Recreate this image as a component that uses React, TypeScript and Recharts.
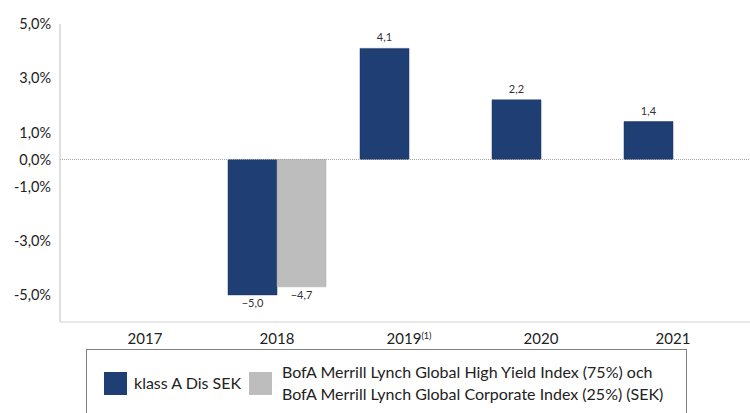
import { BarChart, Bar, XAxis, YAxis, ReferenceLine, LabelList } from "recharts";

const years = ["2017", "2018", "2019", "2020", "2021"];
const fundReturns: (number | null)[] = [null, -5.0, 4.1, 2.2, 1.4];
const indexReturns: (number | null)[] = [null, -4.7, null, null, null];
const yTicks = [5, 3, 1, 0, -1, -3, -5];

const BLUE = "#1F3E73";
const GREY = "#BDBDBD";
const FONT = "Lato, 'Open Sans', sans-serif";

const data = years.map((year, i) => ({
  year,
  fund: fundReturns[i],
  index: indexReturns[i],
}));

const fmtTick = (v: number) => `${v.toFixed(1).replace(".", ",")}%`;
const fmtLabel = (v: number) => v.toFixed(1).replace(".", ",").replace("-", "\u2212");

function BarLabel(props: any) {
  const { x, y, width, height, value } = props;
  if (value == null) return null;
  const top = Math.min(y, y + height);
  const bottom = Math.max(y, y + height);
  const ly = value >= 0 ? top - 7 : bottom + 12;
  return (
    <text
      x={x + width / 2}
      y={ly}
      textAnchor="middle"
      fontFamily={FONT}
      fontSize={11}
      fill="#333"
    >
      {fmtLabel(value)}
    </text>
  );
}

function YearTick(props: any) {
  const { x, y, payload } = props;
  const sup = payload.value === "2019";
  return (
    <text x={x} y={y + 14} textAnchor="middle" fontFamily={FONT} fontSize={15} fill="#222">
      {payload.value}
      {sup && (
        <tspan fontSize={9} dy={-5}>
          (1)
        </tspan>
      )}
    </text>
  );
}

export default function App() {
  return (
    <div style={{ position: "relative", width: 750, height: 413, background: "#fff", overflow: "hidden" }}>
      <style>{"body{margin:0}"}</style>
      <BarChart
        width={750}
        height={413}
        data={data}
        margin={{ top: 24, right: 0, bottom: 68, left: 0 }}
        barGap={0}
        barSize={49}
      >
        <XAxis
          dataKey="year"
          height={23}
          padding={{ left: 19, right: 11 }}
          axisLine={{ stroke: "#D0D0D0" }}
          tickLine={false}
          tick={<YearTick />}
          interval={0}
        />
        <YAxis
          width={60}
          domain={[-6, 5]}
          ticks={yTicks}
          interval={0}
          tickFormatter={fmtTick}
          axisLine={{ stroke: "#BFBFBF" }}
          tickLine={false}
          tickMargin={3}
          tick={{ fontFamily: FONT, fontSize: 14.5, fill: "#222" }}
        />
        <ReferenceLine y={0} stroke="#A0A0A0" strokeDasharray="1 1" />
        <Bar dataKey="fund" fill={BLUE} stroke="#1A3560" strokeWidth={0.5} isAnimationActive={false}>
          <LabelList dataKey="fund" content={<BarLabel />} />
        </Bar>
        <Bar dataKey="index" fill={GREY} stroke="#A8A8A8" strokeWidth={0.5} isAnimationActive={false}>
          <LabelList dataKey="index" content={<BarLabel />} />
        </Bar>
      </BarChart>

      {/* Legend */}
      <div
        style={{
          position: "absolute",
          left: 86,
          top: 349,
          width: 601,
          height: 70,
          border: "1px solid #7F7F7F",
          boxSizing: "border-box",
          background: "#fff",
          fontFamily: FONT,
          fontSize: 16,
          color: "#222",
        }}
      >
        <span style={{ position: "absolute", left: 17, top: 22, width: 23, height: 23, background: BLUE }} />
        <span style={{ position: "absolute", left: 47, top: 23, whiteSpace: "nowrap" }}>klass A Dis SEK</span>
        <span style={{ position: "absolute", left: 162, top: 22, width: 23, height: 23, background: GREY }} />
        <span style={{ position: "absolute", left: 195, top: 11, lineHeight: "22px", whiteSpace: "nowrap" }}>
          BofA Merrill Lynch Global High Yield Index (75%) och
          <br />
          BofA Merrill Lynch Global Corporate Index (25%) (SEK)
        </span>
      </div>
    </div>
  );
}
